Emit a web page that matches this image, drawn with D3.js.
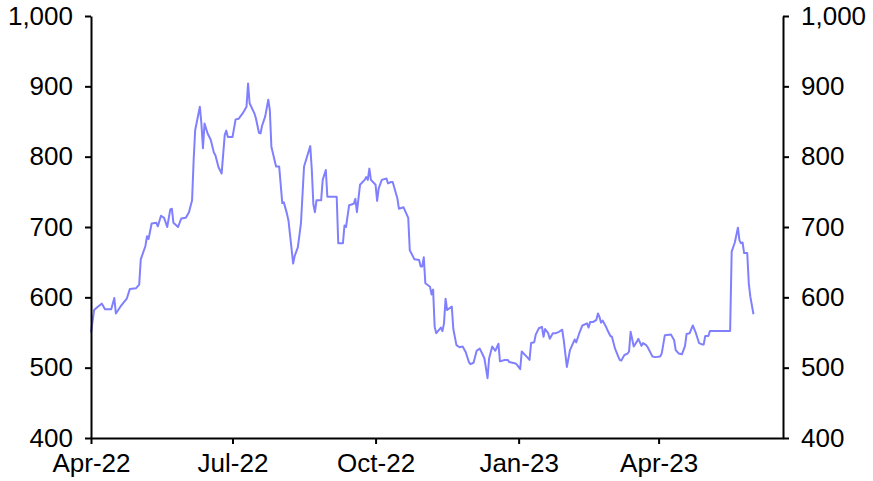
<!DOCTYPE html>
<html>
<head>
<meta charset="utf-8">
<script src="https://cdn.jsdelivr.net/npm/d3@7"></script>
<style>
  html, body { margin: 0; padding: 0; background: #fff; }
  #chart { width: 873px; height: 481px; }
  .axis text { font-family: "Liberation Sans", Arial, sans-serif; font-size: 26px; fill: #000; }
  .axis line, .axis path { stroke: #000; stroke-width: 2px; }
</style>
</head>
<body>
<div id="chart"></div>
<script>
// daily series (Apr-22 .. Jun-23)
const dates = [
  '2022-04-01','2022-04-03','2022-04-05','2022-04-08','2022-04-10','2022-04-14','2022-04-16','2022-04-17','2022-04-20','2022-04-24','2022-04-26','2022-04-30',
  '2022-05-02','2022-05-03','2022-05-06','2022-05-07','2022-05-08','2022-05-10','2022-05-13','2022-05-14','2022-05-16','2022-05-18','2022-05-20','2022-05-22','2022-05-23','2022-05-24','2022-05-27','2022-05-29',
  '2022-06-01','2022-06-03','2022-06-05','2022-06-06','2022-06-07','2022-06-10','2022-06-11','2022-06-12','2022-06-13','2022-06-15','2022-06-17','2022-06-19','2022-06-20','2022-06-22','2022-06-24','2022-06-26','2022-06-27','2022-06-28',
  '2022-07-01','2022-07-03','2022-07-05','2022-07-08','2022-07-10','2022-07-11','2022-07-12','2022-07-15','2022-07-16','2022-07-18','2022-07-19','2022-07-20','2022-07-22','2022-07-24','2022-07-25','2022-07-26','2022-07-29','2022-07-31',
  '2022-08-02','2022-08-03','2022-08-05','2022-08-06','2022-08-09','2022-08-10','2022-08-12','2022-08-14','2022-08-16','2022-08-20','2022-08-21','2022-08-22','2022-08-23','2022-08-24','2022-08-27','2022-08-28','2022-08-30','2022-08-31',
  '2022-09-06','2022-09-07','2022-09-10','2022-09-11','2022-09-12','2022-09-14','2022-09-17','2022-09-18','2022-09-19','2022-09-21','2022-09-24','2022-09-25','2022-09-26','2022-09-27','2022-09-28',
  '2022-10-01','2022-10-02','2022-10-03','2022-10-05','2022-10-08','2022-10-09','2022-10-11','2022-10-12','2022-10-15','2022-10-16','2022-10-19','2022-10-22','2022-10-23','2022-10-26','2022-10-29','2022-10-30','2022-10-31',
  '2022-11-01','2022-11-02','2022-11-05','2022-11-06','2022-11-07','2022-11-08','2022-11-09','2022-11-12','2022-11-13','2022-11-14','2022-11-15','2022-11-16','2022-11-19','2022-11-20','2022-11-22','2022-11-24','2022-11-26','2022-11-28','2022-11-30',
  '2022-12-01','2022-12-03','2022-12-05','2022-12-07','2022-12-09','2022-12-10','2022-12-12','2022-12-13','2022-12-15','2022-12-17','2022-12-19','2022-12-20','2022-12-23','2022-12-25','2022-12-26','2022-12-30','2022-12-31',
  '2023-01-02','2023-01-03','2023-01-06','2023-01-08','2023-01-09','2023-01-11','2023-01-12','2023-01-14','2023-01-16','2023-01-17','2023-01-18','2023-01-20','2023-01-21','2023-01-23','2023-01-25','2023-01-27','2023-01-29','2023-01-30',
  '2023-02-01','2023-02-03','2023-02-05','2023-02-06','2023-02-07','2023-02-09','2023-02-11','2023-02-14','2023-02-15','2023-02-16','2023-02-18','2023-02-20','2023-02-21','2023-02-22','2023-02-23','2023-02-24','2023-02-26','2023-02-27',
  '2023-03-01','2023-03-02','2023-03-04','2023-03-06','2023-03-07','2023-03-08','2023-03-10','2023-03-12','2023-03-13','2023-03-14','2023-03-16','2023-03-18','2023-03-19','2023-03-21','2023-03-22','2023-03-24','2023-03-25','2023-03-28','2023-03-30',
  '2023-04-02','2023-04-03','2023-04-05','2023-04-09','2023-04-11','2023-04-12','2023-04-14','2023-04-16','2023-04-18','2023-04-19','2023-04-21','2023-04-23','2023-04-25','2023-04-27','2023-04-29','2023-04-30',
  '2023-05-01','2023-05-03','2023-05-04','2023-05-17','2023-05-18','2023-05-20','2023-05-22','2023-05-23','2023-05-24','2023-05-25','2023-05-26','2023-05-28','2023-05-29','2023-05-30',
  '2023-06-01'
];
const values = [
  550,582,586,591,583,583,599,577,587,598,612,613,
  618,654,673,687,683,705,706,701,716,713,700,725,726,706,700,712,
  713,721,738,795,838,871,847,812,847,833,824,806,802,785,776,831,837,828,
  828,853,854,863,871,904,876,862,855,834,833,844,857,881,866,814,786,786,
  734,735,719,709,648,659,671,705,786,815,781,732,721,738,738,767,781,743,
  743,677,677,702,700,731,733,740,721,760,767,771,767,783,767,
  760,737,755,767,769,762,764,764,741,726,728,713,667,654,653,644,644,
  657,620,615,604,611,558,549,557,552,563,598,582,587,555,532,529,530,522,508,
  505,507,524,527,518,513,485,513,530,524,534,509,511,511,508,506,504,
  498,523,516,511,535,536,547,556,558,544,555,549,541,549,549,551,554,539,
  501,525,535,540,536,549,560,563,557,565,565,568,577,572,564,567,559,554,
  545,544,527,516,511,510,518,520,523,551,530,537,541,531,535,532,529,516,515,
  516,520,546,547,539,525,520,519,531,548,549,560,549,535,533,533,
  545,545,552,552,665,678,699,681,677,678,663,663,620,601,
  576
];

// axis settings
const xStart = '2022-04-01';
const xEnd = '2023-06-20';
const xTicks = ['2022-04-01','2022-07-01','2022-10-01','2023-01-01','2023-04-01'];
const yTicks = [400, 500, 600, 700, 800, 900, 1000];

function drawChart() {
    const W = 873, H = 481;
    const m = { top: 16, right: 90, bottom: 43, left: 91 };
    const w = W - m.left - m.right;
    const h = H - m.top - m.bottom;

    const parse = d3.utcParse('%Y-%m-%d');
    const data = dates.map((d, i) => ({ date: parse(d), value: values[i] }));

    const svg = d3.select('#chart').append('svg')
        .attr('width', W).attr('height', H);
    const g = svg.append('g').attr('transform', `translate(${m.left},${m.top})`);

    // ── Scales ──
    const x = d3.scaleUtc()
        .domain([parse(xStart), parse(xEnd)])
        .range([0, w]);
    const y = d3.scaleLinear()
        .domain([400, 1000])
        .range([h, 0]);

    // Line
    const line = d3.line()
        .x(d => x(d.date))
        .y(d => y(d.value));

    g.append('path')
        .datum(data)
        .attr('fill', 'none')
        .attr('stroke', '#8080ff')
        .attr('stroke-width', 2)
        .attr('stroke-linejoin', 'round')
        .attr('d', line);

    // Axes
    const fmtY = d3.format(',');
    g.append('g').attr('class', 'axis')
        .call(d3.axisLeft(y).tickValues(yTicks).tickFormat(fmtY).tickSize(6).tickPadding(12).tickSizeOuter(0));

    g.append('g').attr('class', 'axis')
        .attr('transform', `translate(${w},0)`)
        .call(d3.axisRight(y).tickValues(yTicks).tickFormat(fmtY).tickSize(6).tickPadding(12).tickSizeOuter(0));

    g.append('g').attr('class', 'axis')
        .attr('transform', `translate(0,${h})`)
        .call(d3.axisBottom(x).tickValues(xTicks.map(parse)).tickFormat(d3.utcFormat('%b-%y')).tickSize(6).tickPadding(10).tickSizeOuter(0));
}

drawChart();
</script>
</body>
</html>
